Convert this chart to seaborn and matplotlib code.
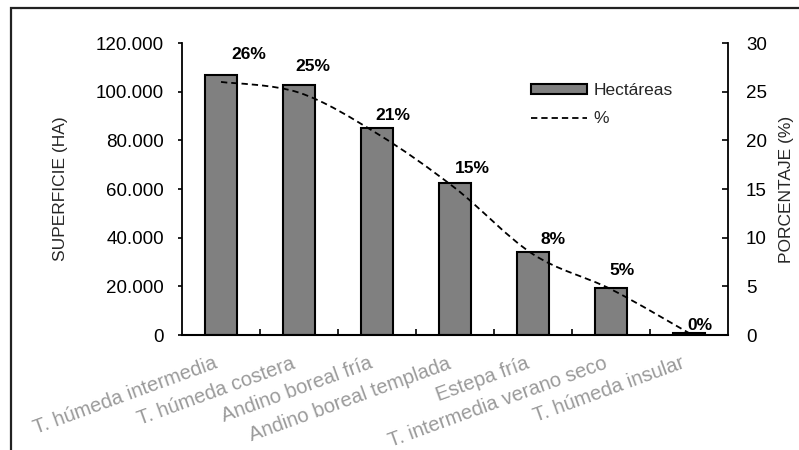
import numpy as np
import pandas as pd
import matplotlib
matplotlib.use("Agg")
import matplotlib.pyplot as plt
from matplotlib import font_manager
from matplotlib.path import Path
from matplotlib.patches import PathPatch, Patch, Rectangle
from matplotlib.lines import Line2D
from matplotlib.ticker import FuncFormatter, FixedLocator
from matplotlib.transforms import ScaledTranslation
import seaborn as sns

# Superficie por zona climática
zonas = [
    "T. húmeda intermedia",
    "T. húmeda costera",
    "Andino boreal fría",
    "Andino boreal templada",
    "Estepa fría",
    "T. intermedia verano seco",
    "T. húmeda insular",
]
hectareas = [107000, 102700, 85200, 62300, 34300, 19400, 900]
porcentaje = [26.0, 24.9, 20.7, 15.1, 8.3, 4.7, 0.2]

ha_ticks = [0, 20000, 40000, 60000, 80000, 100000, 120000]
pct_ticks = [0, 5, 10, 15, 20, 25, 30]

# label offsets (pixels) of the percentage annotations
label_offsets = [(28, 27), (14, 26), (16, 18), (17, 20), (20, 15), (11, 19), (11, 8)]

sns.set_style("white")
plt.rcParams["font.family"] = ["Liberation Sans", "DejaVu Sans"]

installed = {f.name for f in font_manager.fontManager.ttflist}
if "Liberation Sans Narrow" in installed:
    title_font = dict(family=["Liberation Sans Narrow", "Liberation Sans"], fontsize=14)
else:
    title_font = dict(family=["Liberation Sans", "DejaVu Sans"], fontsize=12.5)

df = pd.DataFrame({"zona": zonas, "ha": hectareas, "pct": porcentaje})

W, H = 799, 450
fig = plt.figure(figsize=(W / 100, H / 100), dpi=100)
ax = fig.add_axes([182 / W, 1 - 335 / H, 546 / W, 292 / H])

sns.barplot(data=df, x="zona", y="ha", ax=ax, color="#808080", saturation=1,
            edgecolor="black", linewidth=1.5, width=0.4)

ax.set_xlim(-0.5, len(zonas) - 0.5)
ax.set_ylim(0, 120000)
ax.set_yticks(ha_ticks)
ax.yaxis.set_major_formatter(FuncFormatter(lambda v, _: f"{v:,.0f}".replace(",", ".")))
ax.set_xlabel("")
ax.set_ylabel("SUPERFICIE (HA)", va="center", **title_font)
ax.yaxis.set_label_coords((60 - 182) / 546, 0.5)

ax.set_xticks(range(len(zonas)))
ax.set_xticklabels(zonas, rotation=20, ha="right", va="top",
                   rotation_mode="anchor", color="#9a9a9a", fontsize=14.5)
ax.tick_params(axis="x", which="major", length=0, pad=13.5)
ax.xaxis.set_minor_locator(FixedLocator(np.arange(0.5, len(zonas) - 1, 1.0)))
ax.tick_params(axis="x", which="minor", direction="in", length=4, width=1.2,
               color="black", bottom=True)
ax.tick_params(axis="y", direction="out", length=3, width=1.2, pad=10,
               labelsize=13.5, left=True, colors="black")

for side in ["top", "right"]:
    ax.spines[side].set_visible(False)
ax.spines["left"].set_linewidth(1.3)
ax.spines["bottom"].set_linewidth(1.5)
for side in ["left", "bottom"]:
    ax.spines[side].set_color("black")

# secondary axis: percentage
ax2 = ax.twinx()
ax2.set_ylim(0, 30)
ax2.set_yticks(pct_ticks)
ax2.tick_params(axis="y", direction="in", length=4, width=1.2, pad=13,
                labelsize=13.5, right=True, colors="black")
ax2.set_ylabel("PORCENTAJE (%)", va="center", rotation=90, **title_font)
ax2.yaxis.set_label_coords((786 - 182) / 546, 0.5)
for side in ["top", "left", "bottom"]:
    ax2.spines[side].set_visible(False)
ax2.spines["right"].set_linewidth(1.3)
ax2.spines["right"].set_color("black")
ax2.grid(False)
ax.grid(False)

# smoothed percentage curve (cubic Bezier through each point)
pts = np.column_stack([np.arange(len(porcentaje), dtype=float), porcentaje])
ext = np.vstack([pts[0], pts, pts[-1]])
verts = [tuple(pts[0])]
codes = [Path.MOVETO]
for i in range(len(pts) - 1):
    p0, p1, p2, p3 = ext[i], ext[i + 1], ext[i + 2], ext[i + 3]
    c1 = p1 + (p2 - p0) / 6.0
    c2 = p2 - (p3 - p1) / 6.0
    verts += [tuple(c1), tuple(c2), tuple(p2)]
    codes += [Path.CURVE4] * 3
dash = (0, (3.5, 2.2))
curve = PathPatch(Path(verts, codes), fill=False, edgecolor="black",
                  linewidth=1.3, linestyle=dash, transform=ax2.transData)
ax2.add_patch(curve)

for i, (p, (dx, dy)) in enumerate(zip(porcentaje, label_offsets)):
    ax2.annotate(f"{p:.0f}%", (i, p), xytext=(dx, dy), textcoords="offset pixels",
                 ha="center", va="center", fontsize=12.5, fontweight="bold",
                 color="black")

handles = [
    Patch(facecolor="#808080", edgecolor="black", linewidth=1.5),
    Line2D([], [], color="black", linestyle=dash, linewidth=1.3),
]
fig.legend(handles, ["Hectáreas", "%"], loc="upper left",
           bbox_to_anchor=(531 / W, 1 - 83 / H), frameon=False,
           fontsize=12.5, handlelength=3.2, handleheight=0.46,
           handletextpad=0.4, labelspacing=0.75, borderpad=0, borderaxespad=0)

# chart frame
fig.add_artist(Rectangle((11 / W, -0.05), 1.2, 1.05 - 8 / H,
                         transform=fig.transFigure, fill=False,
                         edgecolor="#222222", linewidth=1.6))

# nudge category labels slightly left of their tick
shift = ScaledTranslation(-8 / 100, 0, fig.dpi_scale_trans)
for lbl in ax.get_xticklabels():
    lbl.set_transform(lbl.get_transform() + shift)

fig.savefig("out.png", dpi=100)
